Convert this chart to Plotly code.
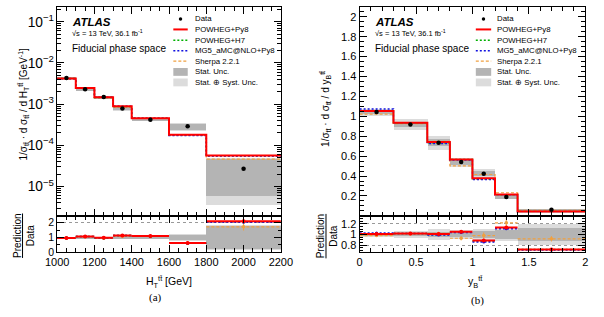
import plotly.graph_objects as go

W, H = 604, 317
def px(x): return x / W
def py(y): return 1 - y / H

FONT = "Liberation Sans"

# ---------------- (a) H_T^tt ----------------
ht_edges = [1000, 1100, 1200, 1300, 1400, 1600, 1800, 2200]
ht_data = [4.3e-3, 2.3e-3, 1.49e-3, 7.8e-4, 4.2e-4, 2.9e-4, 2.7e-5]
ht_stat = [0.03, 0.04, 0.05, 0.08, 0.06, 0.17, 0.78]
ht_tot = [0.05, 0.06, 0.07, 0.10, 0.09, 0.24, 0.87]
ht_r_py8 = [0.97, 1.07, 0.98, 1.14, 1.09, 0.62, 2.10]
ht_r_h7 = [0.97, 1.06, 0.97, 1.13, 1.08, 0.61, 2.06]
ht_r_mg5 = [0.96, 1.06, 0.98, 1.14, 1.09, 0.60, 2.04]
ht_r_sh = [0.96, 1.05, 0.97, 1.08, 1.07, 0.63, 1.72]
ht_r_py8_err = [0.02, 0.02, 0.02, 0.04, 0.03, 0.03, 0.08]
ht_r_sh_err = [0.03, 0.03, 0.04, 0.06, 0.05, 0.05, 0.25]

# ---------------- (b) y_B^tt ----------------
yb_edges = [0.0, 0.3, 0.6, 0.8, 1.0, 1.2, 1.4, 2.0]
yb_data = [1.043, 0.918, 0.735, 0.54, 0.424, 0.19, 0.06]
yb_stat = [0.02, 0.03, 0.05, 0.05, 0.06, 0.08, 0.12]
yb_tot = [0.035, 0.06, 0.10, 0.08, 0.11, 0.12, 0.20]
yb_r_py8 = [1.01, 1.02, 1.01, 1.05, 0.89, 1.13, 0.72]
yb_r_h7 = [1.01, 1.02, 1.00, 1.05, 0.88, 1.12, 0.72]
yb_r_mg5 = [1.03, 1.02, 0.99, 1.04, 0.86, 1.11, 0.71]
yb_r_sh = [0.98, 1.01, 1.02, 0.93, 0.98, 1.22, 0.92]
yb_r_py8_err = [0.01, 0.01, 0.02, 0.02, 0.02, 0.03, 0.02]
yb_r_sh_err = [0.02, 0.02, 0.03, 0.04, 0.06, 0.10, 0.05]

C_PY8 = "#ff0000"
C_H7 = "#00b000"
C_MG5 = "#1010e0"
C_SH = "#f0a040"
C_STAT = "#b4b4b4"
C_TOT = "#dcdcdc"

fig = go.Figure()

def centers(e): return [(a + b) / 2 for a, b in zip(e[:-1], e[1:])]
def widths(e): return [b - a for a, b in zip(e[:-1], e[1:])]

def add_panel(edges, data, stat, tot, preds, xa, ya, xr, yr):
    c = centers(edges); w = widths(edges)
    for rel, col in ((tot, C_TOT), (stat, C_STAT)):
        fig.add_trace(go.Bar(x=c, width=w, base=[d * (1 - r) for d, r in zip(data, rel)],
                             y=[2 * d * r for d, r in zip(data, rel)], marker_color=col,
                             marker_line_width=0, xaxis=xa, yaxis=ya, showlegend=False))
        fig.add_trace(go.Bar(x=c, width=w, base=[1 - r for r in rel],
                             y=[2 * r for r in rel], marker_color=col,
                             marker_line_width=0, xaxis=xr, yaxis=yr, showlegend=False))
    for ratio, err, col, dash, lw, ms in preds:
        vals = [d * r for d, r in zip(data, ratio)]
        fig.add_trace(go.Scatter(x=edges, y=vals + [vals[-1]], mode="lines", line_shape="hv",
                                 line=dict(color=col, width=lw, dash=dash),
                                 xaxis=xa, yaxis=ya, showlegend=False))
        sx, sy = [], []
        for a, b, r in zip(edges[:-1], edges[1:], ratio):
            sx += [a, b, None]; sy += [r, r, None]
        fig.add_trace(go.Scatter(x=sx, y=sy, mode="lines",
                                 line=dict(color=col, width=lw, dash=dash),
                                 xaxis=xr, yaxis=yr, showlegend=False))
        fig.add_trace(go.Scatter(x=c, y=ratio, mode="markers",
                                 marker=dict(color=col, size=ms),
                                 error_y=dict(type="data", array=err, color=col, thickness=1, width=0),
                                 xaxis=xr, yaxis=yr, showlegend=False))
    fig.add_trace(go.Scatter(x=c, y=data, mode="markers", marker=dict(color="black", size=4.5),
                             xaxis=xa, yaxis=ya, showlegend=False))

zero = [0] * 7
add_panel(ht_edges, ht_data, ht_stat, ht_tot,
          [(ht_r_sh, ht_r_sh_err, C_SH, "3px,2px", 1.2, 3.5),
           (ht_r_h7, zero, C_H7, "2px,2px", 1.5, 3),
           (ht_r_mg5, zero, C_MG5, "2px,2px", 1.5, 3),
           (ht_r_py8, ht_r_py8_err, C_PY8, "solid", 2, 4)],
          "x", "y", "x2", "y2")
add_panel(yb_edges, yb_data, yb_stat, yb_tot,
          [(yb_r_sh, yb_r_sh_err, C_SH, "3px,2px", 1.2, 3.5),
           (yb_r_h7, zero, C_H7, "2px,2px", 1.5, 3),
           (yb_r_mg5, zero, C_MG5, "2px,2px", 1.5, 3),
           (yb_r_py8, yb_r_py8_err, C_PY8, "solid", 2, 4)],
          "x3", "y3", "x4", "y4")

tickfont = dict(family=FONT, size=11, color="black")
common = dict(showline=True, linecolor="black", linewidth=1, mirror="ticks", ticks="inside",
              tickcolor="black", ticklen=7, tickwidth=1, tickfont=tickfont, zeroline=False,
              showgrid=False)

LX = [px(47), px(280)]
RX = [px(362), px(597)]
MAINY = [py(220), py(7)]
RATY = [py(257), py(220)]

fig.update_layout(
    width=W, height=H, margin=dict(l=0, r=0, t=0, b=0),
    paper_bgcolor="white", plot_bgcolor="white", barmode="overlay", bargap=0,
    xaxis=dict(domain=LX, range=[1000, 2200], anchor="y", showticklabels=False, dtick=200,
               minor=dict(ticks="inside", ticklen=4, dtick=50, tickcolor="black"), **common),
    yaxis=dict(domain=MAINY, type="log", range=[-5.71, -0.64], anchor="x", dtick=1,
               exponentformat="power", minor=dict(ticks="inside", ticklen=4, tickcolor="black"), **common),
    xaxis2=dict(domain=LX, range=[1000, 2200], anchor="y2", matches="x", dtick=200,
                minor=dict(ticks="inside", ticklen=4, dtick=50, tickcolor="black"), **common),
    yaxis2=dict(domain=RATY, range=[0, 2.47], anchor="x2", tickvals=[0, 1, 2],
                minor=dict(ticks="inside", ticklen=3, dtick=0.5, tickcolor="black"),
                **{**common, "showgrid": True, "tickfont": dict(family=FONT, size=10.5, color="black")},
                gridcolor="#999999", griddash="dot", gridwidth=1),
    xaxis3=dict(domain=RX, range=[0, 2], anchor="y3", showticklabels=False, dtick=0.5,
                minor=dict(ticks="inside", ticklen=4, dtick=0.1, tickcolor="black"), **common),
    yaxis3=dict(domain=MAINY, range=[0.0, 2.1], anchor="x3",
                tickvals=[0.2, 0.4, 0.6, 0.8, 1.0, 1.2, 1.4, 1.6, 1.8, 2.0],
                ticktext=["0.2", "0.4", "0.6", "0.8", "1", "1.2", "1.4", "1.6", "1.8", "2"],
                minor=dict(ticks="inside", ticklen=4, dtick=0.05, tickcolor="black"), **common),
    xaxis4=dict(domain=RX, range=[0, 2], anchor="y4", matches="x3", dtick=0.5,
                tickvals=[0, 0.5, 1, 1.5, 2], ticktext=["0", "0.5", "1", "1.5", "2"],
                minor=dict(ticks="inside", ticklen=4, dtick=0.1, tickcolor="black"), **common),
    yaxis4=dict(domain=RATY, range=[0.67, 1.35], anchor="x4", tickvals=[0.8, 1.0, 1.2],
                ticktext=["0.8", "1", "1.2"],
                minor=dict(ticks="inside", ticklen=3, dtick=0.05, tickcolor="black"),
                **{**common, "showgrid": True}, gridcolor="#999999", griddash="dot", gridwidth=1),
)

ann = []
def text(x, y, s, size, xanchor="left", angle=0, family=FONT, yanchor="middle"):
    ann.append(dict(x=px(x), y=py(y), xref="paper", yref="paper", text=s, showarrow=False,
                    xanchor=xanchor, yanchor=yanchor, textangle=angle,
                    font=dict(family=family, size=size, color="black")))

TT = "tt\u0304"
for x0 in (60, 376):
    text(x0, 22, "<b><i>ATLAS</i></b>", 11.5)
    text(x0, 33.5, "\u221As = 13 TeV, 36.1 fb<sup>-1</sup>", 7.5)
    text(x0, 49, "Fiducial phase space", 10)

text(12, 106, "1/\u03c3<sub>" + TT + "</sub> \u00b7 d \u03c3<sub>" + TT + "</sub> / d H<sub>T</sub><sup>" + TT +
     "</sup> [GeV<sup>-1</sup>]", 10, xanchor="center", angle=-90)
text(327, 111, "1/\u03c3<sub>" + TT + "</sub> \u00b7 d \u03c3<sub>" + TT + "</sub> / d y<sub>B</sub><sup>" + TT +
     "</sup>", 10, xanchor="center", angle=-90)
text(13, 240, "<u>Prediction</u><br>Data", 10, xanchor="center", angle=-90)
text(329, 241, "<u>Prediction</u><br>Data", 10, xanchor="center", angle=-90)
text(163, 287, "H<sub>T</sub><sup>" + TT + "</sup> [GeV]", 10.5, xanchor="center")
text(482, 287, "y<sub>B</sub><sup>" + TT + "</sup>", 10.5, xanchor="center")
text(149, 303, "(a)", 11, xanchor="center", family="Liberation Serif")
text(485, 306, "(b)", 11, xanchor="center", family="Liberation Serif")

shapes = []
leg_labels = ["Data", "POWHEG+Py8", "POWHEG+H7", "MG5_aMC@NLO+Py8", "Sherpa 2.2.1",
              "Stat. Unc.", "Stat. \u2295 Syst. Unc."]
rows = [19.3, 30, 41, 51.7, 62.3, 73.3, 84]
for (sx0, sx1, tx) in ((168, 183, 188), (483, 499, 503.5)):
    for lab, ry in zip(leg_labels, rows):
        text(tx, ry, lab, 7.8)
    cx = (sx0 + sx1) / 2
    shapes.append(dict(type="circle", xref="paper", yref="paper", x0=px(cx - 1.8), x1=px(cx + 1.8),
                       y0=py(rows[0] + 1.8), y1=py(rows[0] - 1.8), fillcolor="black", line=dict(width=0)))
    for ry, col, dash, lw in ((rows[1], C_PY8, "solid", 2), (rows[2], C_H7, "2px,2px", 1.5),
                              (rows[3], C_MG5, "2px,2px", 1.5), (rows[4], C_SH, "3px,2px", 1.2)):
        shapes.append(dict(type="line", xref="paper", yref="paper", x0=px(sx0), x1=px(sx1),
                           y0=py(ry), y1=py(ry), line=dict(color=col, width=lw, dash=dash)))
    for ry, col in ((rows[5], C_STAT), (rows[6], C_TOT)):
        shapes.append(dict(type="rect", xref="paper", yref="paper", x0=px(sx0), x1=px(sx1),
                           y0=py(ry + 4), y1=py(ry - 4), fillcolor=col, line=dict(width=0)))

fig.update_layout(annotations=ann, shapes=shapes)
fig.write_html("out.html")
